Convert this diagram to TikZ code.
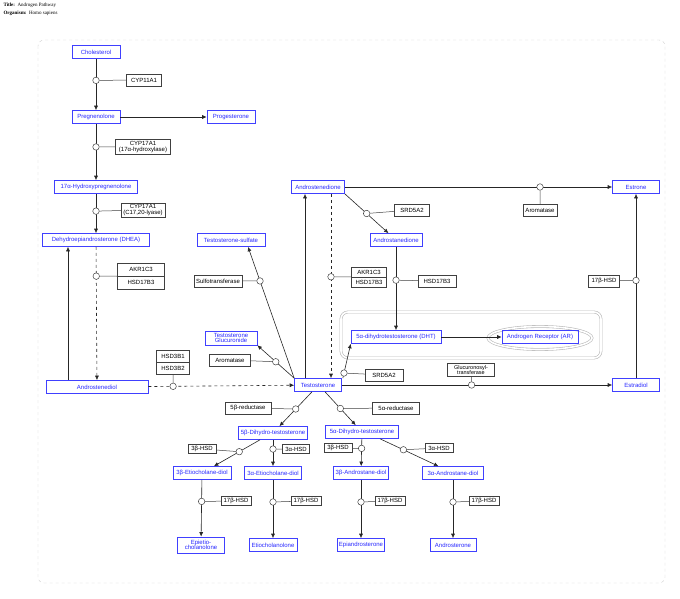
\documentclass[tikz,border=0pt]{standalone}
\usepackage{fontspec}
\setmainfont{Liberation Sans}
\newfontfamily\titlefont{Liberation Serif}
\usetikzlibrary{arrows.meta,shapes.geometric}
\begin{document}
\begin{tikzpicture}[x=1pt,y=-1pt,
  every node/.style={font=\fontsize{6}{6.5}\selectfont},
  met/.style={draw=blue!75,text=blue!85,line width=0.6pt,minimum height=13pt,inner sep=1pt,align=center},
  gp/.style={draw=black!75,text=black,line width=0.5pt,minimum height=12pt,inner sep=1pt,align=center},
  circ/.style={circle,solid,draw=black!75,fill=white,line width=0.5pt,minimum size=6.5pt,inner sep=0pt},
  arr/.style={-{Latex[length=4.5pt,width=4pt]},line width=0.6pt,black!85},
  darr/.style={arr,dashed},
  ln/.style={line width=0.5pt,black!75}]
\useasboundingbox (0,0) rectangle (680,599);
\node[anchor=west,font=\titlefont\fontsize{5}{5}\selectfont] (t1) at (0,5) {\textbf{Title:}\ \ Androgen Pathway};
\node[anchor=west,font=\titlefont\fontsize{5}{5}\selectfont] (t2) at (0,13) {\textbf{Organism:}\ \ Homo sapiens};
\draw[gray!40,dashed,rounded corners=6] (38,40) rectangle (665,583);
% complex
\draw[gray!55,line width=0.6pt,double distance=1.6pt,rounded corners=7] (341,312) rectangle (601,358);
\draw[gray!55,line width=0.6pt,double distance=1.6pt] (540,338) ellipse (52pt and 11.5pt);
% metabolites
\node[met,minimum width=48] (chol) at (96,52) {Cholesterol};
\node[met,minimum width=48] (preg) at (96,117) {Pregnenolone};
\node[met,minimum width=48] (prog) at (231,117) {Progesterone};
\node[met,minimum width=83] (ohp) at (96,187) {17α-Hydroxypregnenolone};
\node[met,minimum width=107] (dhea) at (96,240) {Dehydroepiandrosterone (DHEA)};
\node[met,minimum width=102] (adiol) at (97,387) {Androstenediol};
\node[met,minimum width=68] (tsulf) at (231,240) {Testosterone-sulfate};
\node[met,minimum width=52,minimum height=14] (tgluc) at (231,338) {Testosterone\\[-1pt]Glucuronide};
\node[met,minimum width=47] (testo) at (318,385) {Testosterone};
\node[met,minimum width=53] (andione) at (318,187) {Androstenedione};
\node[met,minimum width=52] (andane) at (396,240) {Androstanedione};
\node[met,minimum width=90] (dht) at (396,337) {5α-dihydrotestosterone (DHT)};
\node[met,minimum width=76] (ar) at (540,337) {Androgen Receptor (AR)};
\node[met,minimum width=47] (estrone) at (636,187) {Estrone};
\node[met,minimum width=47] (estradiol) at (636,385) {Estradiol};
\node[met,minimum width=69] (bdht) at (273,433) {5β-Dihydro-testosterone};
\node[met,minimum width=73] (adht) at (362,432) {5α-Dihydro-testosterone};
\node[met,minimum width=58] (betio) at (202,473) {3β-Etiocholane-diol};
\node[met,minimum width=57] (aetio) at (273,473) {3α-Etiocholane-diol};
\node[met,minimum width=55] (band) at (361,473) {3β-Androstane-diol};
\node[met,minimum width=61] (aand) at (453,473) {3α-Androstane-diol};
\node[met,minimum width=47,minimum height=16] (epietio) at (201,545) {Epietio-\\[-1pt]cholanolone};
\node[met,minimum width=48] (etio) at (273,545) {Etiocholanolone};
\node[met,minimum width=47] (epiand) at (361,545) {Epiandrosterone};
\node[met,minimum width=46] (andro) at (453,545) {Androsterone};
% gene products
\node[gp,minimum width=35] (cyp11) at (144,80) {CYP11A1};
\node[gp,minimum width=55,minimum height=15] (cyp17a) at (143,147) {CYP17A1\\[-1pt](17α-hydroxylase)};
\node[gp,minimum width=44,minimum height=14] (cyp17b) at (143,210) {CYP17A1\\[-1pt](C17,20-lyase)};
\node[gp,minimum width=47,minimum height=13] (akr1) at (141,269.5) {AKR1C3};
\node[gp,minimum width=47,minimum height=13] (hsd1) at (141,282.5) {HSD17B3};
\node[gp,minimum width=33,minimum height=12] (h3b1) at (173,356) {HSD3B1};
\node[gp,minimum width=33,minimum height=12] (h3b2) at (173,368) {HSD3B2};
\node[gp,minimum width=48] (sulfo) at (218,281) {Sulfotransferase};
\node[gp,minimum width=41] (arom1) at (230,360) {Aromatase};
\node[gp,minimum width=35] (srd1) at (412,210) {SRD5A2};
\node[gp,minimum width=35,minimum height=9.5] (akr2) at (369,272) {AKR1C3};
\node[gp,minimum width=35,minimum height=9.5] (hsd2) at (369,282) {HSD17B3};
\node[gp,minimum width=38] (hsd3) at (437,281) {HSD17B3};
\node[gp,minimum width=38] (srd2) at (384,375) {SRD5A2};
\node[gp,minimum width=47,minimum height=13,font=\fontsize{5.5}{5.5}\selectfont] (gluc) at (471,370) {Glucuronosyl-\\transferase};
\node[gp,minimum width=34] (arom2) at (540,210) {Aromatase};
\node[gp,minimum width=31] (h17r) at (604,281) {17β-HSD};
\node[gp,minimum width=46] (b5r) at (248,408) {5β-reductase};
\node[gp,minimum width=47] (a5r) at (396,408) {5α-reductase};
\node[gp,minimum width=28,minimum height=9] (h3b_l) at (202,449) {3β-HSD};
\node[gp,minimum width=27,minimum height=9] (h3a_l) at (296,449) {3α-HSD};
\node[gp,minimum width=28,minimum height=9] (h3b_r) at (338,448) {3β-HSD};
\node[gp,minimum width=28,minimum height=9] (h3a_r) at (439,448) {3α-HSD};
\node[gp,minimum width=30,minimum height=9] (h17a) at (236,501) {17β-HSD};
\node[gp,minimum width=30,minimum height=9] (h17b) at (306,501) {17β-HSD};
\node[gp,minimum width=30,minimum height=9] (h17c) at (390,501) {17β-HSD};
\node[gp,minimum width=30,minimum height=9] (h17d) at (484,501) {17β-HSD};
% reactions
\draw[arr] (chol) -- node[circ,pos=0.42] (c1) {} (preg);
\draw[arr] (preg) -- (prog);
\draw[arr] (preg) -- node[circ,pos=0.41] (c2) {} (ohp);
\draw[arr] (ohp) -- node[circ,pos=0.44] (c3) {} (dhea);
\draw[darr] (dhea) -- node[circ,pos=0.22] (c4) {} (adiol);
\draw[arr] ([xshift=-29pt]adiol.north) -- ([xshift=-28pt]dhea.south);
\draw[darr] (adiol) -- node[circ,pos=0.17] (c5) {} (testo);
\draw[arr] ([xshift=-13pt]testo.north) -- ([xshift=-13pt]andione.south);
\draw[darr] ([xshift=13pt]andione.south) -- node[circ,pos=0.45] (c6) {} ([xshift=13pt]testo.north);
\draw[arr] (andione.south east) -- node[circ,pos=0.5] (c7) {} (andane);
\draw[arr] (andane) -- node[circ,pos=0.4] (c8) {} (dht);
\draw[arr] ([xshift=1pt]testo.north east) -- node[circ,pos=0.15] (c9) {} (dht.south west);
\draw[arr] (dht) -- (ar);
\draw[arr] (andione) -- node[circ,pos=0.73] (c10) {} (estrone);
\draw[arr] (testo) -- node[circ,pos=0.48] (c11) {} (estradiol);
\draw[arr] (estradiol) -- node[circ,pos=0.53] (c12) {} (estrone);
\draw[arr] (testo.north west) -- node[circ,pos=0.74] (c13) {} ([xshift=17pt]tsulf.south);
\draw[arr] (testo.north west) -- node[circ,pos=0.5] (c14) {} (tgluc.south east);
\draw[arr] ([xshift=-6pt]testo.south) -- node[circ,pos=0.5] (c15) {} (bdht);
\draw[arr] ([xshift=7pt]testo.south) -- node[circ,pos=0.5] (c16) {} (adht);
\draw[arr] ([xshift=-13pt]bdht.south) -- node[circ,pos=0.45] (c17) {} (betio);
\draw[arr] (bdht) -- node[circ,pos=0.35] (c18) {} (aetio);
\draw[arr] (adht) -- node[circ,pos=0.35] (c19) {} (band);
\draw[arr] ([xshift=18pt]adht.south) -- node[circ,pos=0.4] (c20) {} (aand);
\draw[arr] (betio) -- node[circ,pos=0.38] (c21) {} (epietio);
\draw[arr] (aetio) -- node[circ,pos=0.38] (c22) {} (etio);
\draw[arr] (band) -- node[circ,pos=0.38] (c23) {} (epiand);
\draw[arr] (aand) -- node[circ,pos=0.38] (c24) {} (andro);
% catalysis links
\draw[ln] (c1) -- (cyp11);
\draw[ln] (c2) -- (cyp17a);
\draw[ln] (c3) -- (cyp17b);
\draw[ln] (c4) -- (akr1.south west);
\draw[ln] (c5) -- (h3b2.south);
\draw[ln] (c6) -- (akr2.south west);
\draw[ln] (c7) -- (srd1);
\draw[ln] (c8) -- (hsd3);
\draw[ln] (c9) -- (srd2);
\draw[ln] (c10) -- (arom2);
\draw[ln] (c11) -- (gluc);
\draw[ln] (c12) -- (h17r);
\draw[ln] (c13) -- (sulfo);
\draw[ln] (c14) -- (arom1);
\draw[ln] (c15) -- (b5r);
\draw[ln] (c16) -- (a5r);
\draw[ln] (c17) -- (h3b_l);
\draw[ln] (c18) -- (h3a_l);
\draw[ln] (c19) -- (h3b_r);
\draw[ln] (c20) -- (h3a_r);
\draw[ln] (c21) -- (h17a);
\draw[ln] (c22) -- (h17b);
\draw[ln] (c23) -- (h17c);
\draw[ln] (c24) -- (h17d);
\end{tikzpicture}
\end{document}
